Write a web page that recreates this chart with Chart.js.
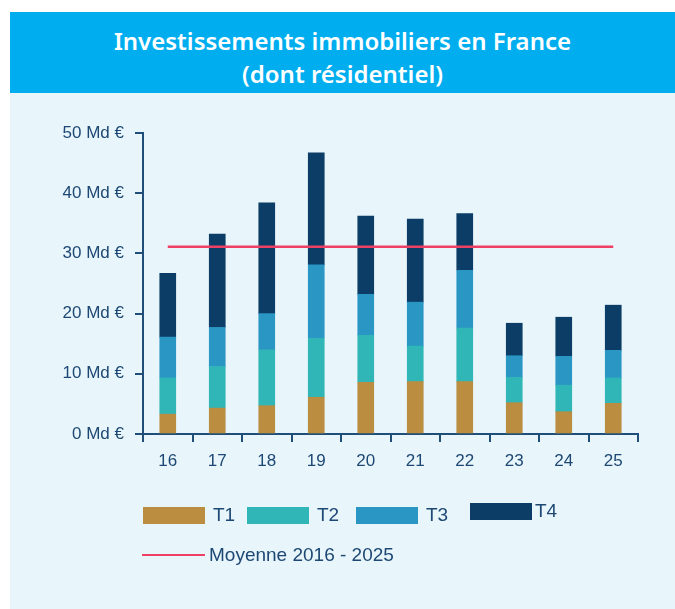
<!DOCTYPE html>
<html>
<head>
<meta charset="utf-8">
<script src="https://cdn.jsdelivr.net/npm/chart.js@4"></script>
<style>
  body { margin: 0; background: #fff; }
  #box { position: absolute; left: 10px; top: 12px; width: 665px; height: 597px; background: #e8f5fb; }
  #title { height: 81px; background: #00aeef; color: #fff; text-align: center;
           font: 600 24px 'Noto Sans', sans-serif; line-height: 33px; box-sizing: border-box; padding-top: 12px; }
  #wrap { position: absolute; left: 0; top: 81px; width: 665px; height: 400px; }
  #legend { position: absolute; left: 0; top: 0; width: 665px; height: 597px; pointer-events: none;
            font: 19px 'Liberation Sans', Arial, sans-serif; color: #1d4873; }
  .item { position: absolute; display: flex; align-items: center; }
  .sw { width: 62px; height: 17px; margin-right: 8px; }
  .ln { width: 63px; height: 2px; margin-right: 4px; }
</style>
</head>
<body>
<div id="box">
  <div id="title">Investissements immobiliers en France<br>(dont résidentiel)</div>
  <div id="wrap"><canvas id="chart" width="665" height="400"></canvas></div>
  <div id="legend"></div>
</div>
<script>
const annees = ['16', '17', '18', '19', '20', '21', '22', '23', '24', '25'];
const t1 = [3.3, 4.3, 4.7, 6.1, 8.6, 8.7, 8.7, 5.2, 3.7, 5.1];
const t2 = [6.0, 6.9, 9.3, 9.8, 7.8, 5.9, 8.9, 4.2, 4.4, 4.2];
const t3 = [6.8, 6.5, 6.0, 12.2, 6.8, 7.3, 9.6, 3.6, 4.8, 4.6];
const t4 = [10.6, 15.5, 18.4, 18.6, 13.0, 13.8, 9.4, 5.4, 6.5, 7.5];
const moyenne = [31.1, 31.1, 31.1, 31.1, 31.1, 31.1, 31.1, 31.1, 31.1, 31.1];

const navy = '#1d4873';
const axe = '#1f4e79';

const chart = new Chart(document.getElementById('chart'), {
  data: {
    labels: annees,
    datasets: [
      { type: 'line', label: 'Moyenne 2016 - 2025', data: moyenne, borderColor: '#ee3f65',
        borderWidth: 2.5, pointRadius: 0, order: 0 },
      { type: 'bar', label: 'T1', data: t1, backgroundColor: '#ba8d40', order: 1 },
      { type: 'bar', label: 'T2', data: t2, backgroundColor: '#30b6b6', order: 1 },
      { type: 'bar', label: 'T3', data: t3, backgroundColor: '#2a96c4', order: 1 },
      { type: 'bar', label: 'T4', data: t4, backgroundColor: '#0b3d66', order: 1 },
    ]
  },
  options: {
    responsive: false,
    animation: false,
    layout: { padding: { top: 40, right: 37, left: 0, bottom: 0 } },
    datasets: { bar: { barThickness: 16 } },
    plugins: { legend: { display: false }, tooltip: { enabled: false } },
    scales: {
      x: {
        stacked: true,
        offset: true,
        grid: { offset: true, drawOnChartArea: false, tickLength: 8, color: axe, lineWidth: 2 },
        border: { color: axe, width: 2 },
        ticks: { color: navy, font: { family: 'Liberation Sans', size: 17 }, padding: 9 },
        afterFit: s => { s.height = 59; }
      },
      y: {
        stacked: true,
        min: 0,
        max: 50,
        ticks: { stepSize: 10, color: navy, font: { family: 'Liberation Sans', size: 17 }, padding: 11,
                 callback: v => v + ' Md €' },
        grid: { drawOnChartArea: false, tickLength: 8, color: axe, lineWidth: 2 },
        border: { color: axe, width: 2 },
        afterFit: s => { s.width = 133; }
      }
    }
  }
});

// légende faite à la main
const pos = [[133, 492], [237, 492], [346, 492], [460, 488]];
const legend = document.getElementById('legend');
chart.data.datasets.slice(1).forEach((d, i) => {
  const el = document.createElement('div');
  el.className = 'item';
  el.style.left = pos[i][0] + 'px';
  el.style.top = pos[i][1] + 'px';
  el.innerHTML = '<div class="sw" style="background:' + d.backgroundColor + (i == 3 ? ';margin-right:3px' : '') + '"></div>' + d.label;
  legend.appendChild(el);
});
const m = chart.data.datasets[0];
const el = document.createElement('div');
el.className = 'item';
el.style.left = '132px';
el.style.top = '532px';
el.innerHTML = '<div class="ln" style="background:' + m.borderColor + '"></div>' + m.label;
legend.appendChild(el);
</script>
</body>
</html>
